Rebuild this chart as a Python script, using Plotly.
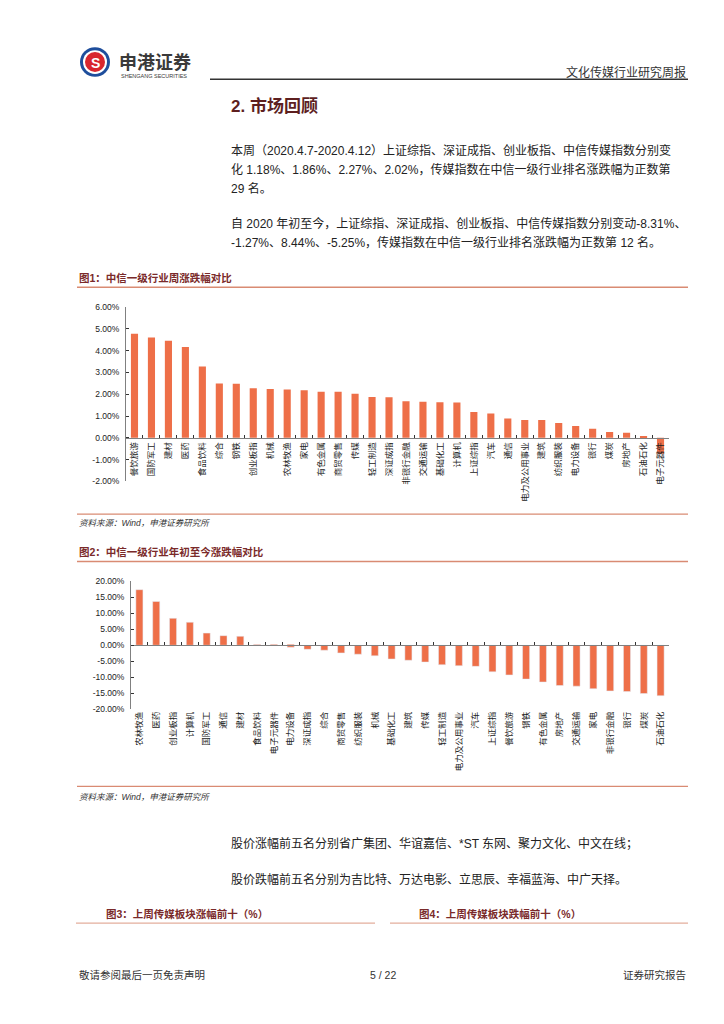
import plotly.graph_objects as go

W, H = 724, 1024


def px(x):
    return x / W


def py(y):
    return 1 - y / H


# ---------------- data ----------------
wk_cats = ["餐饮旅游", "国防军工", "建材", "医药", "食品饮料", "综合", "钢铁", "创业板指",
           "机械", "农林牧渔", "家电", "有色金属", "商贸零售", "传媒", "轻工制造", "深证成指",
           "非银行金融", "交通运输", "基础化工", "计算机", "上证综指", "汽车", "通信",
           "电力及公用事业", "建筑", "纺织服装", "电力设备", "银行", "煤炭", "房地产",
           "石油石化", "电子元器件"]
wk_vals = [4.78, 4.61, 4.46, 4.17, 3.27, 2.49, 2.48, 2.27,
           2.24, 2.22, 2.18, 2.12, 2.12, 2.02, 1.87, 1.86,
           1.68, 1.66, 1.63, 1.62, 1.18, 1.12, 0.89,
           0.82, 0.82, 0.68, 0.54, 0.42, 0.27, 0.23,
           0.06, -0.73]

ytd_cats = ["农林牧渔", "医药", "创业板指", "计算机", "国防军工", "通信", "建材", "食品饮料",
            "电子元器件", "电力设备", "深证成指", "综合", "商贸零售", "纺织服装", "机械",
            "基础化工", "建筑", "传媒", "轻工制造", "电力及公用事业", "汽车", "上证综指",
            "餐饮旅游", "钢铁", "有色金属", "房地产", "交通运输", "家电", "非银行金融",
            "银行", "煤炭", "石油石化"]
ytd_vals = [17.4, 13.7, 8.44, 7.2, 3.8, 3.0, 2.8, 0.15,
            0.05, -0.6, -1.27, -1.55, -2.4, -2.8, -3.3,
            -4.3, -4.7, -5.25, -6.1, -6.4, -6.6, -8.31,
            -9.3, -10.6, -11.5, -12.6, -12.8, -13.6, -14.3,
            -14.5, -15.1, -15.8]

y1_tickvals = [6, 5, 4, 3, 2, 1, 0, -1, -2]
y1_ticktext = ["6.00%", "5.00%", "4.00%", "3.00%", "2.00%", "1.00%", "0.00%", "-1.00%", "-2.00%"]
y2_tickvals = [20, 15, 10, 5, 0, -5, -10, -15, -20]
y2_ticktext = ["20.00%", "15.00%", "10.00%", "5.00%", "0.00%", "-5.00%", "-10.00%", "-15.00%", "-20.00%"]

# ---------------- styles ----------------
BAR = "#EE6F48"
AXIS = "#808080"
CJK = "Noto Sans CJK SC"
MIX = "Liberation Sans, Noto Sans CJK SC"
MAROON = "#7A2A2A"
CORAL = "#D98B73"

fig = go.Figure()

fig.add_trace(go.Bar(x=wk_cats, y=wk_vals, marker=dict(color=BAR, line=dict(width=0)),
                     xaxis="x", yaxis="y", showlegend=False, hoverinfo="x+y"))
fig.add_trace(go.Bar(x=ytd_cats, y=ytd_vals, marker=dict(color=BAR, line=dict(width=0)),
                     xaxis="x2", yaxis="y2", showlegend=False, hoverinfo="x+y"))
# carrier of the bottom category labels of chart 2
fig.add_trace(go.Bar(x=ytd_cats, y=ytd_vals, marker=dict(color="rgba(0,0,0,0)"),
                     xaxis="x3", yaxis="y2", showlegend=False, hoverinfo="skip"))

tickfont_x = dict(family=CJK, size=8.5, color="#222222")
tickfont_y = dict(family="Liberation Sans", size=8.5, color="#222222")

fig.update_layout(
    width=W, height=H,
    margin=dict(l=0, r=0, t=0, b=0),
    paper_bgcolor="white", plot_bgcolor="rgba(0,0,0,0)",
    barmode="overlay", bargap=0.58,
    xaxis=dict(domain=[px(118), px(661)], anchor="free", position=py(429),
               type="category", tickson="boundaries", ticks="inside", ticklen=3,
               tickcolor="#333333", showline=True, linecolor=AXIS, linewidth=1,
               tickangle=-90, tickfont=tickfont_x, showgrid=False, zeroline=False,
               fixedrange=True),
    yaxis=dict(domain=[py(473), py(297)], range=[-2, 6], anchor="x",
               tickvals=y1_tickvals, ticktext=y1_ticktext, ticks="inside", ticklen=3,
               tickcolor="#333333", showline=True, linecolor=AXIS, linewidth=1,
               showgrid=False, zeroline=False, tickfont=tickfont_y, ticklabelstandoff=4),
    xaxis2=dict(domain=[px(123), px(661)], anchor="free", position=py(638.7),
                type="category", tickson="boundaries", ticks="inside", ticklen=3,
                tickcolor="#333333", showline=True, linecolor=AXIS, linewidth=1,
                showticklabels=False, showgrid=False, zeroline=False),
    xaxis3=dict(overlaying="x2", anchor="y2", side="bottom", type="category",
                showline=False, ticks="", tickangle=-90, tickfont=tickfont_x,
                showgrid=False, zeroline=False),
    yaxis2=dict(domain=[py(703), py(574)], range=[-20, 20], anchor="x2",
                tickvals=y2_tickvals, ticktext=y2_ticktext, ticks="inside", ticklen=3,
                tickcolor="#333333", showline=True, linecolor=AXIS, linewidth=1,
                showgrid=False, zeroline=False, tickfont=tickfont_y, ticklabelstandoff=4),
)

ann = []


def text(x, y, s, size, color="#222222", xanchor="left", family=MIX):
    ann.append(dict(x=px(x), y=py(y), xref="paper", yref="paper", text=s,
                    showarrow=False, xanchor=xanchor, yanchor="middle",
                    font=dict(family=family, size=size, color=color)))


# header
text(109, 48.5, "<b>申港证券</b>", 18, "#3a3a3a", family=CJK)
text(111, 64, "SHENGANG SECURITIES", 5.5, "#3a3a3a", family="Liberation Sans Narrow, Liberation Sans")
text(680, 59, "文化传媒行业研究周报", 12, "#333333", xanchor="right", family=CJK)
text(87, 50, "<b>S</b>", 14, "white", xanchor="center", family="Liberation Sans")

# section heading and body
text(221, 94, "<b>2. 市场回顾</b>", 17, "#5E1F1F")
body = [
    (139, "本周（2020.4.7-2020.4.12）上证综指、深证成指、创业板指、中信传媒指数分别变"),
    (158, "化 1.18%、1.86%、2.27%、2.02%，传媒指数在中信一级行业排名涨跌幅为正数第"),
    (177, "29 名。"),
    (213, "自 2020 年初至今，上证综指、深证成指、创业板指、中信传媒指数分别变动-8.31%、"),
    (232, "-1.27%、8.44%、-5.25%，传媒指数在中信一级行业排名涨跌幅为正数第 12 名。"),
]
for yy, s in body:
    text(221, yy, s, 12, "#222222")

# figure captions and sources
text(69, 268, "<b>图1：中信一级行业周涨跌幅对比</b>", 10.5, MAROON)
text(69, 515, "<i>资料来源：Wind，申港证券研究所</i>", 8.5, "#333333")
text(69, 544, "<b>图2：中信一级行业年初至今涨跌幅对比</b>", 10.5, MAROON)
text(69, 792, "<i>资料来源：Wind，申港证券研究所</i>", 8.5, "#333333")

text(221, 839, "股价涨幅前五名分别省广集团、华谊嘉信、*ST 东网、聚力文化、中文在线；", 12)
text(221, 875, "股价跌幅前五名分别为吉比特、万达电影、立思辰、幸福蓝海、中广天择。", 12)

text(96, 910, "<b>图3：上周传媒板块涨幅前十（%）</b>", 10.5, MAROON)
text(409, 910, "<b>图4：上周传媒板块跌幅前十（%）</b>", 10.5, MAROON)

# footer
text(69, 971, "敬请参阅最后一页免责声明", 10.5, "#333333")
text(375, 971, "5 / 22", 10.5, "#333333", xanchor="center")
text(680, 971, "证券研究报告", 10.5, "#333333", xanchor="right")

fig.update_layout(annotations=ann)

shapes = []


def hline(x0, x1, y, color, width):
    shapes.append(dict(type="line", xref="paper", yref="paper", x0=px(x0), x1=px(x1),
                       y0=py(y), y1=py(y), line=dict(color=color, width=width)))


def circle(cx, cy, r, color):
    shapes.append(dict(type="circle", xref="paper", yref="paper",
                       x0=px(cx - r), x1=px(cx + r), y0=py(cy + r), y1=py(cy - r),
                       fillcolor=color, line=dict(width=0), layer="below"))


circle(87, 49.5, 15, "#1E4E9C")
circle(87, 49.5, 12, "white")
circle(87, 49.5, 10, "#D8262E")

hline(202, 680, 67, "#333333", 1.5)
hline(69, 680, 277, CORAL, 1.5)
hline(69, 680, 506, CORAL, 1.2)
hline(69, 680, 554, CORAL, 1.5)
hline(69, 680, 781, CORAL, 1.2)
hline(68, 367, 919, "#E3AE9C", 1.3)
hline(382, 680, 919, "#E3AE9C", 1.3)

fig.update_layout(shapes=shapes)

fig.write_html("out.html")
